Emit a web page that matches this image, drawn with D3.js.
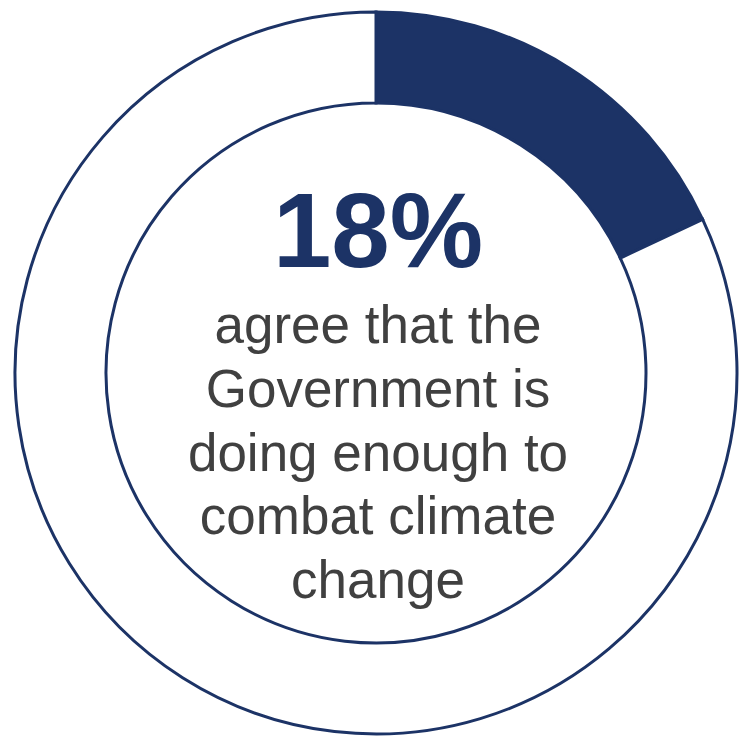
<!DOCTYPE html>
<html>
<head>
<meta charset="utf-8">
<script src="https://cdn.jsdelivr.net/npm/d3@7/dist/d3.min.js"></script>
<style>
  html, body { margin: 0; padding: 0; background: #ffffff; }
  svg { display: block; }
</style>
</head>
<body>
<svg id="chart" width="739" height="737"></svg>
<script>
// Survey result: share who agree vs. the rest
const categories = ["Agree", "Other"];
const values = [18, 82];
const headline = "18%";
const captionLines = ["agree that the", "Government is", "doing enough to", "combat climate", "change"];

const navy = "#1c3366";
const textGrey = "#404040";

const svg = d3.select("#chart");
const cx = 376, cy = 373;
const outerR = 361, innerR = 270;

const g = svg.append("g").attr("transform", `translate(${cx},${cy})`);

const pie = d3.pie().sort(null).value(d => d.value);
const arc = d3.arc().innerRadius(innerR).outerRadius(outerR);

const data = categories.map((c, i) => ({ category: c, value: values[i] }));

g.selectAll("path.slice")
  .data(pie(data))
  .join("path")
  .attr("class", "slice")
  .attr("d", arc)
  .attr("fill", (d, i) => i === 0 ? navy : "#ffffff")
  .attr("stroke", navy)
  .attr("stroke-width", 3)
  .attr("stroke-linejoin", "miter");

// Centre labels
g.append("text")
  .attr("x", 2)
  .attr("y", 267 - cy)
  .attr("text-anchor", "middle")
  .attr("font-family", "'Liberation Sans', Arial, sans-serif")
  .attr("font-weight", "bold")
  .attr("font-size", 105)
  .attr("fill", navy)
  .text(headline);

const baseY = 343 - cy;
const lineStep = 63.75;
g.selectAll("text.caption")
  .data(captionLines)
  .join("text")
  .attr("class", "caption")
  .attr("x", 2)
  .attr("y", (d, i) => baseY + i * lineStep)
  .attr("text-anchor", "middle")
  .attr("font-family", "'Liberation Sans', Arial, sans-serif")
  .attr("font-size", 53)
  .attr("fill", textGrey)
  .text(d => d);
</script>
</body>
</html>
